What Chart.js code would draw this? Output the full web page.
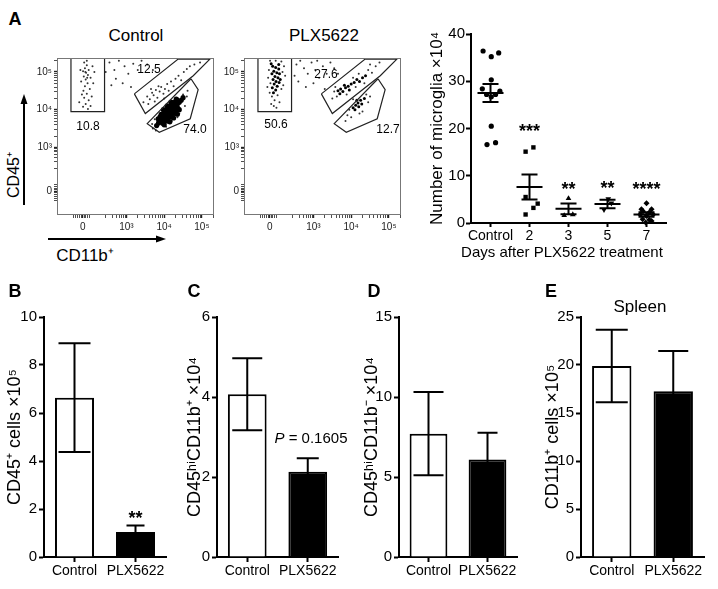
<!DOCTYPE html>
<html>
<head>
<meta charset="utf-8">
<script src="https://cdn.jsdelivr.net/npm/chart.js@4.4.1/dist/chart.umd.min.js"></script>
<style>
body { margin: 0; background: #fff; font-family: Arial, "Liberation Sans", Helvetica, sans-serif; }
#fig { position: relative; width: 718px; height: 589px; overflow: hidden; }
canvas, svg { position: absolute; }
.t { position: absolute; white-space: nowrap; line-height: 1; color: #000; transform: translate(-50%, -50%); }
.big { font-weight: bold; font-size: 18px; }
.rot { transform: translate(-50%, -50%) rotate(-90deg); }
</style>
</head>
<body>
<div id="fig">
  <svg style="left:0;top:0" width="718" height="589">
    <line x1="24" y1="205" x2="24" y2="103" stroke="#000" stroke-width="2"/>
    <polygon points="24,94 20.5,104 27.5,104" fill="#000"/>
    <line x1="48" y1="239" x2="157" y2="239" stroke="#000" stroke-width="2"/>
    <polygon points="166,239 156,235.5 156,242.5" fill="#000"/>
  </svg>

  <canvas id="flowCtrl" width="190" height="190" style="left:28px;top:50px"></canvas>
  <canvas id="flowPlx" width="187" height="190" style="left:218px;top:50px"></canvas>
  <canvas id="microglia" width="308" height="225" style="left:410px;top:20px"></canvas>
  <canvas id="barB" width="172" height="289" style="left:0px;top:300px"></canvas>
  <canvas id="barC" width="164" height="289" style="left:180px;top:300px"></canvas>
  <canvas id="barD" width="163" height="289" style="left:360px;top:300px"></canvas>
  <canvas id="barE" width="180" height="289" style="left:538px;top:300px"></canvas>

  <div class="t big" style="left:15px;top:19px">A</div>
  <div class="t" style="left:136px;top:35px;font-size:17px">Control</div>
  <div class="t" style="left:324px;top:35px;font-size:17px">PLX5622</div>
  <div class="t" style="left:149px;top:69px;font-size:12px">12.5</div>
  <div class="t" style="left:88px;top:126px;font-size:12px">10.8</div>
  <div class="t" style="left:195px;top:129px;font-size:12px">74.0</div>
  <div class="t" style="left:326px;top:74px;font-size:12px">27.6</div>
  <div class="t" style="left:276px;top:124px;font-size:12px">50.6</div>
  <div class="t" style="left:388px;top:129px;font-size:12px">12.7</div>
  <div class="t rot" style="left:14px;top:175px;font-size:16px">CD45⁺</div>
  <div class="t" style="left:85px;top:255px;font-size:17px">CD11b⁺</div>
  <div class="t" style="left:562px;top:251px;font-size:15px">Days after PLX5622 treatment</div>

  <div class="t big" style="left:15px;top:291px">B</div>
  <div class="t big" style="left:194px;top:291px">C</div>
  <div class="t big" style="left:374px;top:291px">D</div>
  <div class="t big" style="left:551px;top:291px">E</div>
  <div class="t" style="left:640px;top:306px;font-size:17px">Spleen</div>
  <div class="t" style="left:311px;top:437px;font-size:15px"><i>P</i> = 0.1605</div>
</div>

<script>
// ---- panel A, flow plots (positions in decades; "0" sits at 1.84 on the logicle axis)
const flowMajorTicks = [1.84, 3, 4, 5];
const flowMajorLabels = ['0', '10³', '10⁴', '10⁵'];
const flowMinorTicks = [1.60, 1.66, 1.71, 1.76, 1.80, 1.88, 1.92, 1.97, 2.02, 2.45, 2.62, 2.74, 2.82, 2.88, 2.93, 2.97,
    3.30, 3.48, 3.60, 3.70, 3.78, 3.85, 3.90, 3.95, 4.30, 4.48, 4.60, 4.70, 4.78, 4.85, 4.90, 4.95, 5.30];

const gateRect = [[1.53, 5.37], [1.53, 3.95], [2.42, 3.95], [2.42, 5.37]];
const gateUpper = [[3.21, 4.42], [4.37, 5.34], [5.21, 5.34], [4.77, 4.90], [3.50, 3.90], [3.21, 4.42]];
const gateLower = [[4.71, 4.82], [4.90, 4.53], [4.69, 3.76], [3.87, 3.40], [3.55, 3.63], [4.71, 4.82]];

const flowCtrlCore = [[3.85, 3.65], [3.95, 3.75], [4.05, 3.85], [4.15, 3.95], [4.25, 4.05], [4.35, 4.15], [4.45, 4.25],
    [3.84, 3.76], [3.94, 3.86], [4.04, 3.96], [4.14, 4.06], [4.24, 4.16], [4.34, 4.26], [3.96, 3.64], [4.06, 3.74],
    [4.16, 3.84], [4.26, 3.94], [4.36, 4.04], [3.90, 3.70], [4.00, 3.80], [4.10, 3.90], [4.20, 4.00], [4.30, 4.10],
    [4.40, 4.20], [3.89, 3.81], [3.99, 3.91], [4.09, 4.01], [4.19, 4.11], [4.29, 4.21], [4.01, 3.69], [4.11, 3.79],
    [4.21, 3.89], [4.31, 3.99], [3.80, 3.58], [4.50, 4.32],
    [3.92, 3.88], [4.02, 3.98], [4.12, 4.08], [4.22, 4.18], [4.32, 4.28], [4.00, 3.60], [4.10, 3.70], [4.20, 3.80],
    [4.30, 3.90], [4.40, 4.00], [3.98, 4.00], [4.08, 4.10], [4.18, 4.20], [4.15, 3.68], [4.25, 3.78], [4.35, 3.88]];
const flowCtrlDots = [
    [1.88, 5.25], [1.95, 5.18], [1.90, 5.10], [2.00, 5.05], [1.85, 5.02], [1.93, 4.98], [1.98, 4.92], [1.87, 4.88],
    [2.05, 4.85], [1.92, 4.80], [1.80, 4.75], [1.97, 4.70], [1.90, 4.62], [2.03, 4.55], [1.86, 4.50], [1.95, 4.42],
    [1.88, 4.32], [2.00, 4.25], [1.92, 4.15], [1.85, 4.08], [1.98, 4.02], [2.10, 5.15], [1.78, 5.05], [2.12, 4.70],
    [1.82, 4.40], [2.08, 4.35], [1.95, 5.30], [2.15, 5.00], [1.75, 4.20], [2.05, 4.10], [1.91, 5.00], [1.96, 4.85],
    [2.55, 5.25], [2.68, 5.05], [2.80, 5.30], [2.95, 5.15], [3.05, 4.95], [2.72, 4.82], [3.18, 5.22], [3.30, 5.05],
    [2.60, 4.65], [2.90, 4.70], [3.40, 5.30], [3.12, 4.60], [2.45, 5.00], [3.55, 5.20], [3.70, 5.05],
    [3.45, 4.20], [3.55, 4.35], [3.62, 4.28], [3.68, 4.45], [3.72, 4.38], [3.78, 4.52], [3.82, 4.32], [3.88, 4.48],
    [3.92, 4.60], [3.98, 4.42], [4.02, 4.55], [4.08, 4.68], [4.12, 4.50], [4.18, 4.75], [4.25, 4.62], [4.30, 4.82],
    [4.38, 4.90], [4.45, 4.78], [4.52, 5.00], [4.60, 5.08], [4.68, 5.15], [4.80, 5.20], [4.95, 5.25], [3.58, 4.15],
    [3.75, 4.22], [3.85, 4.62], [4.00, 4.30], [3.65, 4.55],
    [3.70, 3.50], [3.78, 3.45], [4.50, 4.40], [4.60, 4.35], [4.55, 4.10], [3.75, 3.75], [4.20, 3.70], [4.40, 3.90],
    [4.05, 3.55], [3.68, 3.62], [4.62, 4.50], [4.35, 3.80]];

const flowPlxCore = [[1.92, 5.15], [2.00, 5.12], [2.08, 5.08], [1.95, 5.02], [2.03, 4.98], [1.90, 4.95], [2.10, 4.95],
    [1.98, 4.88], [2.06, 4.85], [1.93, 4.80], [2.01, 4.75], [2.09, 4.72], [1.96, 4.68], [2.04, 4.62], [1.91, 4.58],
    [2.00, 4.52], [2.08, 5.20], [1.88, 5.22], [2.12, 4.80], [1.94, 4.45],
    [3.65, 4.50], [3.72, 4.55], [3.78, 4.48], [3.85, 4.58], [3.92, 4.62], [3.70, 4.42], [3.82, 4.65], [4.00, 4.68],
    [4.08, 4.72], [4.15, 4.80], [4.22, 4.75], [4.30, 4.85], [4.38, 4.90], [3.95, 4.52],
    [4.05, 4.05], [4.12, 4.12], [4.18, 4.18], [4.25, 4.25], [4.10, 4.00], [4.20, 4.08], [4.28, 4.15], [4.15, 4.25],
    [4.35, 4.30]];
const flowPlxDots = [
    [1.85, 5.30], [2.15, 5.28], [1.82, 5.05], [2.18, 5.00], [1.80, 4.85], [2.20, 4.65], [1.86, 4.70], [2.15, 4.55],
    [1.90, 4.35], [2.05, 4.38], [1.97, 4.25], [1.88, 4.15], [2.10, 4.20], [2.02, 4.05], [1.84, 4.45], [2.25, 4.90],
    [1.78, 4.60], [2.00, 5.30], [2.22, 5.15], [1.95, 4.10],
    [2.55, 5.20], [2.65, 5.30], [2.75, 5.10], [2.85, 4.95], [2.95, 5.25], [3.05, 5.05], [3.15, 4.85], [3.25, 5.15],
    [3.35, 4.95], [2.60, 4.75], [2.80, 4.60], [3.00, 4.70], [3.45, 5.25], [3.10, 5.30], [2.50, 4.90], [3.30, 4.55],
    [3.55, 5.10], [3.65, 4.95],
    [3.50, 4.30], [3.58, 4.60], [3.62, 4.35], [4.05, 4.85], [4.20, 4.95], [4.45, 5.05], [4.55, 4.98], [4.65, 5.15],
    [4.75, 5.25], [3.88, 4.40], [4.12, 4.60], [4.35, 4.70], [3.55, 4.48], [4.50, 5.20],
    [3.90, 3.85], [3.95, 4.00], [4.00, 3.80], [4.40, 4.40], [4.45, 4.20], [4.30, 3.95], [3.85, 3.70], [4.50, 4.35],
    [4.22, 3.90], [4.05, 4.28]];

// ---- panel A, microglia counts (x10^4)
const dayLabels = ['Control', '2', '3', '5', '7'];
const microgliaControl = [36.4, 36.0, 35.2, 30.3, 28.4, 27.9, 27.2, 26.7, 27.2, 20.5, 16.6, 17.0];
const jitterControl = [-0.19, 0.21, 0.02, 0.02, -0.21, 0.24, -0.10, 0.02, 0.13, 0.02, -0.09, 0.13];
const microgliaDay2 = [15.1, 16.0, 5.5, 4.1, 3.2, 1.8];
const jitterDay2 = [-0.10, 0.10, -0.10, 0.21, 0.10, -0.10];
const microgliaDay3 = [5.2, 1.6, 1.8];
const jitterDay3 = [0, -0.11, 0.11];
const microgliaDay5 = [5.1, 2.8, 4.2];
const jitterDay5 = [0.02, -0.09, 0.10];
const microgliaDay7 = [4.2, 2.9, 2.9, 2.5, 2.2, 1.8, 1.5, 1.8, 0.8, 0.7, 0.1, 0.4];
const jitterDay7 = [0, -0.13, 0.13, -0.09, 0.07, -0.16, 0, 0.17, -0.10, 0.07, -0.02, 0.13];
const microgliaMean = [27.5, 7.6, 3.0, 4.0, 1.8];
const microgliaSem = [1.9, 2.65, 1.15, 0.9, 0.5];
const microgliaStars = ['', '***', '**', '**', '****'];
const microgliaStarsAt = [0, 20.4, 8.1, 8.3, 8.1];

// ---- panels B-E
const barCats = ['Control', 'PLX5622'];
const cd45Values = [6.64, 1.04];
const cd45Sem = [2.27, 0.27];
const cd45Stars = ['', '**'];
const cd45StarsAt = [0, 1.79];
const cd45hiPosValues = [4.07, 2.13];
const cd45hiPosSem = [0.90, 0.34];
const cd45hiNegValues = [7.71, 6.10];
const cd45hiNegSem = [2.60, 1.67];
const spleenValues = [19.9, 17.26];
const spleenSem = [3.77, 4.20];

Chart.defaults.font.family = 'Arial, "Liberation Sans", Helvetica, sans-serif';
Chart.defaults.color = '#000';

const frame = {
    id: 'frame',
    afterDraw(chart) {
        const {ctx, chartArea: a} = chart;
        ctx.save();
        ctx.strokeStyle = '#777';
        ctx.lineWidth = 1;
        ctx.strokeRect(a.left + 0.5, a.top + 0.5, a.right - a.left - 1, a.bottom - a.top - 1);
        ctx.restore();
    }
};

const notes = {
    id: 'notes',
    afterDatasetsDraw(chart, args, opts) {
        if (!opts.text) return;
        const {ctx, scales: {x, y}} = chart;
        ctx.save();
        ctx.font = opts.font;
        ctx.fillStyle = '#000';
        ctx.textAlign = 'center';
        ctx.textBaseline = 'alphabetic';
        opts.text.forEach((t, i) => {
            if (t) ctx.fillText(t, x.getPixelForValue(i), y.getPixelForValue(opts.at[i]) + opts.shift);
        });
        ctx.restore();
    }
};

const errorBars = {
    id: 'errorBars',
    afterDatasetsDraw(chart, args, opts) {
        const {ctx, scales: {x, y}} = chart;
        const vals = chart.data.datasets[0].data;
        ctx.save();
        ctx.strokeStyle = '#000';
        ctx.lineWidth = 2;
        vals.forEach((v, i) => {
            const px = x.getPixelForValue(i);
            const top = y.getPixelForValue(v + opts.sem[i]);
            const bot = y.getPixelForValue(v - opts.sem[i]);
            const w = opts.caps[i];
            ctx.beginPath();
            ctx.moveTo(px, top); ctx.lineTo(px, bot);
            ctx.moveTo(px - w, top); ctx.lineTo(px + w, top);
            ctx.moveTo(px - w, bot); ctx.lineTo(px + w, bot);
            ctx.stroke();
        });
        ctx.restore();
    }
};

const meanSem = {
    id: 'meanSem',
    afterDatasetsDraw(chart) {
        const {ctx, scales: {x, y}} = chart;
        ctx.save();
        ctx.strokeStyle = '#000';
        ctx.lineWidth = 2;
        microgliaMean.forEach((m, i) => {
            const cx = x.getPixelForValue(i);
            const ym = y.getPixelForValue(m);
            const yt = y.getPixelForValue(m + microgliaSem[i]);
            const yb = y.getPixelForValue(m - microgliaSem[i]);
            ctx.beginPath();
            ctx.moveTo(cx - 13, ym); ctx.lineTo(cx + 13, ym);
            ctx.moveTo(cx, yt); ctx.lineTo(cx, yb);
            ctx.moveTo(cx - 8, yt); ctx.lineTo(cx + 8, yt);
            ctx.moveTo(cx - 8, yb); ctx.lineTo(cx + 8, yb);
            ctx.stroke();
        });
        ctx.restore();
    }
};

const toXY = pts => pts.map(p => ({x: p[0], y: p[1]}));

function flowAxis(min, max, pos, fitSize) {
    return {
        type: 'linear', position: pos, min: min, max: max,
        afterBuildTicks: s => { s.ticks = flowMajorTicks.concat(flowMinorTicks).map(v => ({value: v})); },
        afterFit: s => { if (pos === 'left') s.width = fitSize; else s.height = fitSize; },
        border: {display: false},
        grid: {
            drawOnChartArea: false, tickLength: 3, tickColor: '#222',
            tickWidth: c => flowMajorTicks.includes(c.tick.value) ? 1.4 : 0.8
        },
        ticks: {
            autoSkip: false, maxRotation: 0, padding: pos === 'left' ? 2 : 3,
            font: {size: 10}, color: '#222',
            callback: v => {
                const i = flowMajorTicks.indexOf(v);
                return i >= 0 ? flowMajorLabels[i] : '';
            }
        }
    };
}

function flowPlot(id, core, dots, coreRadius, yWidth) {
    const gate = pts => ({type: 'line', data: toXY(pts), borderColor: '#222', borderWidth: 1.2, pointRadius: 0, fill: false, tension: 0});
    new Chart(document.getElementById(id), {
        type: 'scatter',
        data: {
            datasets: [
                gate(gateRect), gate(gateUpper), gate(gateLower),
                {data: toXY(core), pointRadius: coreRadius, pointBorderWidth: 0, pointBackgroundColor: '#000'},
                {data: toXY(dots), pointRadius: 1, pointBorderWidth: 0, pointBackgroundColor: '#333'}
            ]
        },
        options: {
            responsive: false, animation: false,
            layout: {padding: {top: 7, right: 3, left: 0, bottom: 0}},
            plugins: {legend: {display: false}, tooltip: {enabled: false}},
            scales: {
                x: flowAxis(1.16, 5.32, 'bottom', 25),
                y: flowAxis(1.21, 5.37, 'left', yWidth)
            }
        },
        plugins: [frame]
    });
}

flowPlot('flowCtrl', flowCtrlCore, flowCtrlDots, 2.6, 29);
flowPlot('flowPlx', flowPlxCore, flowPlxDots, 1.5, 26);

function dayGroup(values, jitter, dayIndex, style, radius, rotation) {
    return {
        data: values.map((v, k) => ({x: dayIndex + jitter[k], y: v})),
        pointStyle: style, pointRadius: radius, pointRotation: rotation || 0,
        pointBackgroundColor: '#000', pointBorderColor: '#000', pointBorderWidth: 0, clip: false
    };
}

new Chart(document.getElementById('microglia'), {
    type: 'scatter',
    data: {
        datasets: [
            dayGroup(microgliaControl, jitterControl, 0, 'circle', 2.6),
            dayGroup(microgliaDay2, jitterDay2, 1, 'rect', 3.1),
            dayGroup(microgliaDay3, jitterDay3, 2, 'triangle', 3.3),
            dayGroup(microgliaDay5, jitterDay5, 3, 'triangle', 3.3, 180),
            dayGroup(microgliaDay7, jitterDay7, 4, 'rectRot', 3)
        ]
    },
    options: {
        responsive: false, animation: false,
        layout: {padding: {top: 14, right: 52, left: 0, bottom: 0}},
        plugins: {
            legend: {display: false}, tooltip: {enabled: false},
            notes: {text: microgliaStars, at: microgliaStarsAt, font: 'bold 18px Arial, "Liberation Sans", sans-serif', shift: 10}
        },
        scales: {
            x: {
                type: 'linear', min: -0.5, max: 4.5,
                afterBuildTicks: s => { s.ticks = dayLabels.map((d, i) => ({value: i})); },
                afterFit: s => { s.height = 22; },
                border: {width: 2, color: '#000'},
                grid: {drawOnChartArea: false, tickLength: 4, tickWidth: 2, tickColor: '#000'},
                ticks: {autoSkip: false, maxRotation: 0, padding: 1, font: {size: 14}, callback: v => dayLabels[v]}
            },
            y: {
                min: 0, max: 40,
                afterFit: s => { s.width = 61; },
                border: {width: 2, color: '#000'},
                grid: {drawOnChartArea: false, tickLength: 5, tickWidth: 2, tickColor: '#000'},
                ticks: {stepSize: 10, padding: 1, font: {size: 15}},
                title: {display: true, text: 'Number of microglia ×10⁴', font: {size: 17}, padding: {top: 17, bottom: 0}}
            }
        }
    },
    plugins: [meanSem, notes]
});

function barChart(id, values, sem, caps, yMax, yStep, yTitle, yWidth, rightPad, titlePad, note) {
    new Chart(document.getElementById(id), {
        type: 'bar',
        data: {
            labels: barCats,
            datasets: [{
                data: values, backgroundColor: ['#fff', '#000'], borderColor: '#000', borderWidth: 2,
                barPercentage: 0.64, categoryPercentage: 1
            }]
        },
        options: {
            responsive: false, animation: false,
            layout: {padding: {top: 17, right: rightPad, left: 0, bottom: 0}},
            plugins: {
                legend: {display: false}, tooltip: {enabled: false},
                errorBars: {sem: sem, caps: caps},
                notes: note || {}
            },
            scales: {
                x: {
                    afterFit: s => { s.height = 32; },
                    border: {width: 2, color: '#000'},
                    grid: {offset: false, drawOnChartArea: false, tickLength: 5, tickWidth: 2, tickColor: '#000'},
                    ticks: {autoSkip: false, maxRotation: 0, minRotation: 0, padding: 1, font: {size: 14}}
                },
                y: {
                    min: 0, max: yMax,
                    afterFit: s => { s.width = yWidth; },
                    border: {width: 2, color: '#000'},
                    grid: {drawOnChartArea: false, tickLength: 5, tickWidth: 2, tickColor: '#000'},
                    ticks: {stepSize: yStep, padding: 2, font: {size: 15}},
                    title: {display: true, text: yTitle, font: {size: 18}, padding: {top: titlePad, bottom: 0}}
                }
            }
        },
        plugins: [errorBars, notes]
    });
}

barChart('barB', cd45Values, cd45Sem, [16, 9], 10, 2, 'CD45⁺ cells ×10⁵', 44, 6, 4,
    {text: cd45Stars, at: cd45StarsAt, font: 'bold 18px Arial, "Liberation Sans", sans-serif', shift: 10});
barChart('barC', cd45hiPosValues, cd45hiPosSem, [15, 11], 6, 2, 'CD45ʰⁱCD11b⁺ ×10⁴', 37, 6, 4);
barChart('barD', cd45hiNegValues, cd45hiNegSem, [15, 10], 15, 5, 'CD45ʰⁱCD11b⁻ ×10⁴', 39, 6, 1);
barChart('barE', spleenValues, spleenSem, [16, 15], 25, 5, 'CD11b⁺ cells ×10⁵', 43, 14, 4);
</script>
</body>
</html>
